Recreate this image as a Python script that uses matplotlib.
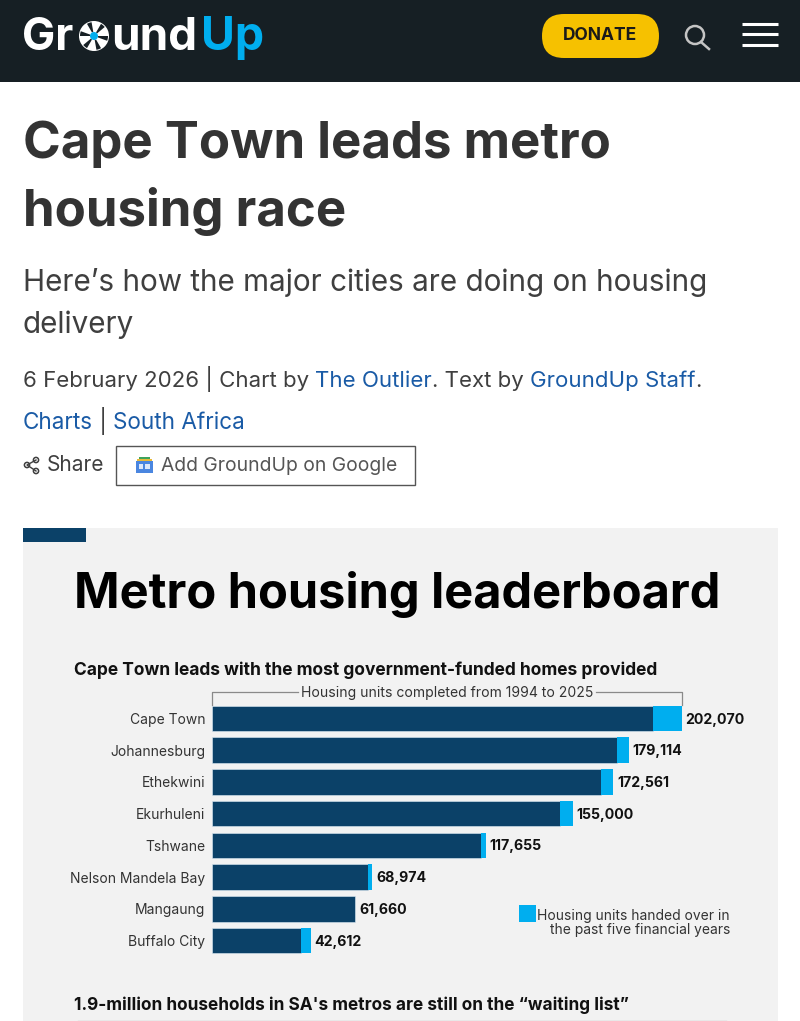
#!/usr/bin/env python3
"""Metro housing leaderboard, drawn inside the GroundUp article page."""

import matplotlib

matplotlib.use("Agg")
import matplotlib.pyplot as plt
from matplotlib.patches import Circle, FancyBboxPatch, Rectangle, Wedge

plt.rcParams["font.family"] = ["Inter", "DejaVu Sans"]

METROS = ["Cape Town", "Johannesburg", "Ethekwini", "Ekurhuleni", "Tshwane",
          "Nelson Mandela Bay", "Mangaung", "Buffalo City"]
TOTAL_UNITS = [202070, 179114, 172561, 155000, 117655, 68974, 61660, 42612]
RECENT_UNITS = [12500, 5100, 5500, 5400, 1900, 1900, 0, 4500]

DARK = "#0B4168"
LIGHT = "#00AEEF"
HEADER = "#161F24"
PANEL = "#F2F2F2"
INK = "#111111"
BODY = "#3F3F3F"
LINK = "#1A5BA6"


def runs(ax, x, y, parts, size):
    """Write coloured text pieces one after another on a baseline."""
    renderer = ax.figure.canvas.get_renderer()
    for string, color in parts:
        t = ax.text(x, y, string, color=color, fontsize=size, va="baseline")
        x += t.get_window_extent(renderer).width
    return x


fig = plt.figure(figsize=(8.0, 10.21), dpi=100, facecolor="white")
page = fig.add_axes([0, 0, 1, 1])
page.set_xlim(0, 800)
page.set_ylim(1021, 0)
page.axis("off")

# header
page.add_patch(Rectangle((0, 0), 800, 82, color=HEADER, lw=0))
page.text(22, 50, "Gr", color="white", fontsize=32, fontweight="bold", va="baseline")
page.add_patch(Circle((94, 36), 15, color="white", lw=0))
for start in range(0, 360, 60):
    page.add_patch(Wedge((94, 36), 14, start, start + 20, width=10, color=HEADER, lw=0))
page.add_patch(Circle((94, 36), 4, color=LIGHT, lw=0))
page.text(111, 50, "und", color="white", fontsize=33, fontweight="bold", va="baseline")
page.text(201, 50, "Up", color=LIGHT, fontsize=33.4, fontweight="bold", va="baseline")
page.add_patch(FancyBboxPatch((542, 14), 117, 44, boxstyle="round,pad=0,rounding_size=22",
                              color="#F6C100", lw=0))
page.text(600, 36, "DONATE", color="#1A1A1A", fontsize=12.5, fontweight="bold",
          ha="center", va="center")
page.add_patch(Circle((695, 35), 9, fill=False, ec="#C4C4C4", lw=1.8))
page.plot([701, 709], [42, 49], color="#C4C4C4", lw=1.8)
for y in (24, 34.5, 45):
    page.plot([742, 778], [y, y], color="white", lw=2.2, solid_capstyle="butt")

# article head
page.text(23, 158, "Cape Town leads metro", color="#333333", fontsize=36.7,
          fontweight="bold", va="baseline")
page.text(23, 226, "housing race", color="#333333", fontsize=36.7, fontweight="bold",
          va="baseline")
page.text(23, 291, "Here’s how the major cities are doing on housing", color=BODY,
          fontsize=21.35, va="baseline")
page.text(23, 333, "delivery", color=BODY, fontsize=21.35, va="baseline")
runs(page, 23, 387, [("6 February 2026 | Chart by ", BODY), ("The Outlier", LINK),
                     (". Text by ", BODY), ("GroundUp Staff", LINK), (".", BODY)], 16.0)
runs(page, 23, 429, [("Charts", LINK), (" | ", BODY), ("South Africa", LINK)], 16.2)

# share row
for cx, cy in ((27, 465), (36, 460), (36, 471)):
    page.add_patch(Circle((cx, cy), 2.6, fill=False, ec=BODY, lw=1.1))
page.plot([36, 27, 36], [460, 465, 471], color=BODY, lw=1.0)
page.text(47, 471, "Share", color=BODY, fontsize=15, va="baseline")
page.add_patch(Rectangle((116, 446), 299, 39, fill=False, ec="#555555", lw=1))
page.add_patch(Rectangle((139, 457), 11, 5, color="#3FA45B", lw=0))
page.add_patch(Rectangle((137, 459), 15, 3, color="#E8B93A", lw=0))
page.add_patch(Rectangle((136, 461), 17, 12, color="#4A86E0", lw=0))
page.add_patch(Rectangle((139, 464), 4, 5, color="#DCE8FA", lw=0))
page.add_patch(Rectangle((145, 464), 5, 5, color="#DCE8FA", lw=0))
page.text(161, 471, "Add GroundUp on Google", color="#555555", fontsize=13.9, va="baseline")

# graphic panel
page.add_patch(Rectangle((23, 528), 755, 493, color=PANEL, lw=0))
page.add_patch(Rectangle((23, 528), 63, 13.5, color=DARK, lw=0))
page.text(74, 608, "Metro housing leaderboard", color="black", fontsize=35.15,
          fontweight="bold", va="baseline")
page.text(74, 675, "Cape Town leads with the most government-funded homes provided",
          color=INK, fontsize=12.53, fontweight="bold", va="baseline")

# bracket over the bars
page.plot([212, 212, 298], [705, 692, 692], color="#8A8A8A", lw=0.9)
page.plot([596, 681.5, 681.5], [692, 692, 705], color="#8A8A8A", lw=0.9)
page.text(447, 693, "Housing units completed from 1994 to 2025", color="#333333",
          fontsize=10.05, ha="center", va="center")

# bars
ax = fig.add_axes([212 / 800, 1 - 956.4 / 1021, 470 / 800, 253.8 / 1021])
ax.patch.set_alpha(0)
positions = range(len(METROS))
delivered = [t - r for t, r in zip(TOTAL_UNITS, RECENT_UNITS)]
ax.barh(positions, delivered, height=0.81, color=DARK, edgecolor="#DDEAF5", lw=0.4)
ax.barh(positions, RECENT_UNITS, left=delivered, height=0.81, color=LIGHT, lw=0)
for i, total in enumerate(TOTAL_UNITS):
    ax.annotate(f"{total:,}", (total, i), xytext=(2.6, -0.8), textcoords="offset points",
                va="center", fontsize=10.2, fontweight="bold", color=INK,
                annotation_clip=False)
ax.set_xlim(0, max(TOTAL_UNITS))
ax.set_ylim(7.5, -0.5)
ax.set_yticks(list(positions), METROS)
ax.set_xticks([])
ax.tick_params(axis="y", length=0, pad=5, labelsize=10.0, labelcolor="#333333")
ax.spines[["top", "right", "bottom", "left"]].set_visible(False)

# legend
page.add_patch(Rectangle((519, 905), 16.5, 16.5, color=LIGHT, lw=0))
page.text(730, 916, "Housing units handed over in", color="#333333", fontsize=9.95,
          ha="right", va="center")
page.text(730, 930, "the past five financial years", color="#333333", fontsize=9.95,
          ha="right", va="center")

# next section, cut off by the screenshot
page.text(74, 1010, "1.9-million households in SA's metros are still on the “waiting list”",
          color=INK, fontsize=12.4, fontweight="bold", va="baseline")
page.plot([78, 726], [1020.5, 1020.5], color="#AAAAAA", lw=0.9)

fig.savefig("out.png", dpi=100)
plt.close(fig)
